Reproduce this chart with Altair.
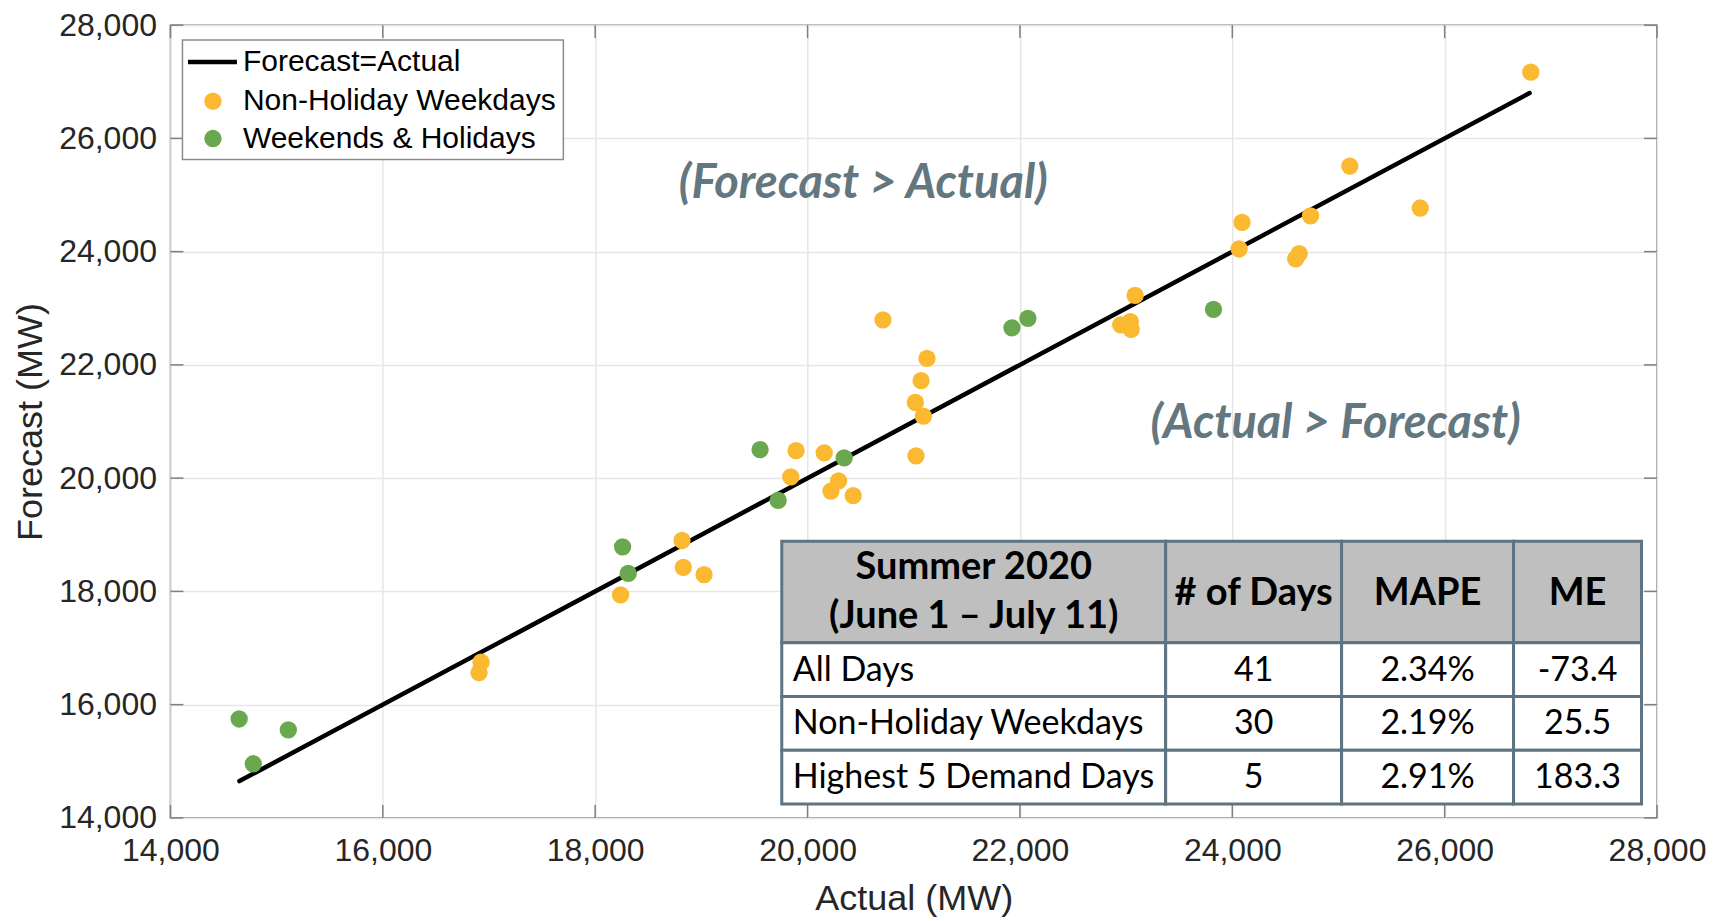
import altair as alt
import pandas as pd

# ---------------- data ----------------
nh_actual = [16925, 16906, 18239, 18818, 18830, 19025, 19892, 20157, 19842, 20292,
             20220, 20430, 20710, 21125, 21069, 21015, 21091, 21021, 23085, 22949,
             23040, 23048, 24064, 24092, 24737, 24630, 24597, 25107, 25770, 26811]
nh_forecast = [16749, 16566, 17937, 18899, 18424, 18295, 20485, 20445, 20023, 19950,
               19771, 19690, 22795, 22114, 21722, 21336, 21095, 20392, 23226, 22707,
               22764, 22629, 24047, 24517, 24633, 23965, 23872, 25511, 24770, 27170]
wh_actual = [14647, 15110, 14780, 18258, 18311, 19553, 19723, 20345, 21925, 22075, 23823]
wh_forecast = [15747, 15553, 14956, 18787, 18318, 20503, 19606, 20357, 22654, 22822, 22981]
line_actual = [14650, 26800]
line_forecast = [14650, 26800]

axis_ticks = [14000, 16000, 18000, 20000, 22000, 24000, 26000, 28000]
series_names = ["Forecast=Actual", "Non-Holiday Weekdays", "Weekends & Holidays"]

table_header = ["# of Days", "MAPE", "ME"]
table_header_first = ["Summer 2020", "(June 1 \u2013 July 11)"]
table_row_names = ["All Days", "Non-Holiday Weekdays", "Highest 5 Demand Days"]
table_days = ["41", "30", "5"]
table_mape = ["2.34%", "2.19%", "2.91%"]
table_me = ["-73.4", "25.5", "183.3"]
annotations = ["(Forecast > Actual)", "(Actual > Forecast)"]

# ---------------- layout / style ----------------
TOP = 17
W, H = 1487, 793
LO, HI = 14000, 28000
ORANGE = "#FBB931"
GREEN = "#6AA84F"
SLATE = "#637780"
FONT = "Liberation Sans"
TFONT = "Lato"


def X(px):
    return LO + px / W * (HI - LO)


def Y(py):
    # py given relative to the reference plot top (797 px tall plot)
    return HI - py / 797 * (HI - LO)


xs = alt.Scale(domain=[LO, HI], nice=False, zero=False)
ys = alt.Scale(domain=[LO, HI], nice=False, zero=False)

common_axis = dict(values=axis_ticks, format=",d", labelFontSize=32, titleFontSize=36,
                   labelFont=FONT, titleFont=FONT, labelColor="#262626", titleColor="#262626",
                   titleFontWeight="normal", ticks=False, domain=False, grid=True,
                   gridColor="#e6e6e6", gridWidth=1.5, labelFlush=False, labelOverlap=False)
xaxis = alt.Axis(title="Actual (MW)", labelPadding=18, titlePadding=15, **common_axis)
yaxis = alt.Axis(title="Forecast (MW)", labelPadding=14, titlePadding=9, **common_axis)


def xq(f):
    return alt.X(f, type="quantitative", scale=xs, axis=xaxis)


def yq(f):
    return alt.Y(f, type="quantitative", scale=ys, axis=yaxis)


# ---------------- main data marks ----------------
pts = pd.DataFrame({
    "Actual": nh_actual + wh_actual,
    "Forecast": nh_forecast + wh_forecast,
    "Type": [series_names[1]] * len(nh_actual) + [series_names[2]] * len(wh_actual),
})
line_df = pd.DataFrame({"Actual": line_actual, "Forecast": line_forecast})

line = alt.Chart(line_df).mark_line(color="black", strokeWidth=4.5, strokeCap="round").encode(
    x=xq("Actual"), y=yq("Forecast"))

points = alt.Chart(pts).mark_circle(size=300, opacity=1).encode(
    x=xq("Actual"), y=yq("Forecast"),
    color=alt.Color("Type:N", scale=alt.Scale(domain=series_names[1:], range=[ORANGE, GREEN]),
                    legend=None),
)

# ---------------- inward ticks ----------------
tl = 13
tick_v = pd.DataFrame({"v": axis_ticks})
tick_layers = []
for y0, y1 in [(LO, LO + tl / H * (HI - LO)), (HI, HI - tl / H * (HI - LO))]:
    d = tick_v.assign(a=y0, b=y1)
    tick_layers.append(alt.Chart(d).mark_rule(color="#7f7f7f", strokeWidth=1.5).encode(
        x=xq("v"), y=yq("a"), y2="b"))
for x0, x1 in [(X(0), X(tl)), (X(W), X(W - tl))]:
    d = tick_v.assign(a=x0, b=x1)
    tick_layers.append(alt.Chart(d).mark_rule(color="#7f7f7f", strokeWidth=1.5).encode(
        y=yq("v"), x=xq("a"), x2="b"))

# ---------------- legend ----------------
leg_rows = [37, 76.5, 114]
leg_box = alt.Chart(pd.DataFrame({"x0": [X(12)], "x1": [X(393)], "y0": [Y(15)], "y1": [Y(135)]})
                    ).mark_rect(fill="white", stroke="#8c8c8c", strokeWidth=1.5).encode(
    x=xq("x0"), x2="x1", y=yq("y0"), y2="y1")
leg_line = alt.Chart(pd.DataFrame({"x0": [X(17.5)], "x1": [X(66.5)], "y0": [Y(leg_rows[0])]})
                     ).mark_rule(color="black", strokeWidth=4.5).encode(
    x=xq("x0"), x2="x1", y=yq("y0"))
leg_dots = alt.Chart(pd.DataFrame({"x0": [X(42.5)] * 2, "y0": [Y(leg_rows[1]), Y(leg_rows[2])],
                                   "Type": series_names[1:]})).mark_circle(size=300, opacity=1).encode(
    x=xq("x0"), y=yq("y0"),
    color=alt.Color("Type:N", scale=alt.Scale(domain=series_names[1:], range=[ORANGE, GREEN]),
                    legend=None))
leg_text = alt.Chart(pd.DataFrame({"x0": [X(72.5)] * 3, "y0": [Y(r) for r in leg_rows],
                                   "t": series_names})).mark_text(
    align="left", baseline="middle", font=FONT, fontSize=30, color="black").encode(
    x=xq("x0"), y=yq("y0"), text="t:N")

# ---------------- annotations ----------------
ann = alt.Chart(pd.DataFrame({"x0": [X(693), X(1165.5)], "y0": [Y(160), Y(400.7)],
                              "t": annotations})).mark_text(
    align="center", baseline="middle", font=TFONT, fontSize=47, fontWeight="bold",
    fontStyle="italic", color=SLATE).encode(x=xq("x0"), y=yq("y0"), text="t:N")

# ---------------- table ----------------
cols = [611.5, 995.5, 1171.5, 1343.5, 1471.5]
rows = [519, 621, 675, 729, 783]
cells = []
for r in range(4):
    for c in range(4):
        cells.append({"x0": X(cols[c]), "x1": X(cols[c + 1]), "y0": Y(rows[r]), "y1": Y(rows[r + 1]),
                      "f": "#BFBFBF" if r == 0 else "white"})
cells_df = pd.DataFrame(cells)
table_rect = alt.Chart(cells_df).mark_rect(stroke="#5E7482", strokeWidth=3).encode(
    x=xq("x0"), x2="x1", y=yq("y0"), y2="y1", fill=alt.Fill("f:N", scale=None))

hdr = []
hdr.append({"x0": X((cols[0] + cols[1]) / 2), "y0": Y(546), "t": table_header_first[0]})
hdr.append({"x0": X((cols[0] + cols[1]) / 2), "y0": Y(595), "t": table_header_first[1]})
for c, t in enumerate(table_header):
    hdr.append({"x0": X((cols[c + 1] + cols[c + 2]) / 2), "y0": Y(572), "t": t})
table_hdr = alt.Chart(pd.DataFrame(hdr)).mark_text(
    align="center", baseline="middle", font=TFONT, fontSize=38, fontWeight="bold", color="black").encode(
    x=xq("x0"), y=yq("y0"), text="t:N")

row_centers = [(rows[i] + rows[i + 1]) / 2 + 1 for i in range(1, 4)]
names_df = pd.DataFrame({"x0": [X(cols[0] + 11)] * 3, "y0": [Y(v) for v in row_centers],
                         "t": table_row_names})
table_names = alt.Chart(names_df).mark_text(
    align="left", baseline="middle", font=TFONT, fontSize=34, color="black").encode(
    x=xq("x0"), y=yq("y0"), text="t:N")
vals = []
for c, col_vals in enumerate([table_days, table_mape, table_me]):
    for i, t in enumerate(col_vals):
        vals.append({"x0": X((cols[c + 1] + cols[c + 2]) / 2), "y0": Y(row_centers[i]), "t": t})
table_vals = alt.Chart(pd.DataFrame(vals)).mark_text(
    align="center", baseline="middle", font=TFONT, fontSize=34, color="black").encode(
    x=xq("x0"), y=yq("y0"), text="t:N")

chart = alt.layer(
    line, points, *tick_layers, leg_box, leg_line, leg_dots, leg_text, ann,
    table_rect, table_hdr, table_names, table_vals
).resolve_scale(color="independent", fill="independent").properties(
    width=W, height=H,
    autosize=alt.AutoSizeParams(type="none"),
    padding={"left": 162.5, "top": TOP, "right": 64, "bottom": 103},
    background="white",
).configure_view(stroke="#7f7f7f", strokeWidth=1.5)

chart.save("out.html", embed_options={"renderer": "svg", "actions": False})
